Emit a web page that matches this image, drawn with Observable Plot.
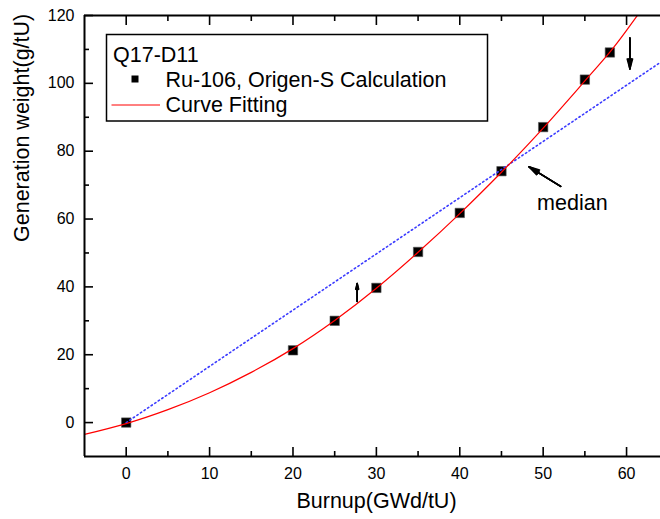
<!DOCTYPE html>
<html><head><meta charset="utf-8">
<script src="https://cdn.jsdelivr.net/npm/d3@7"></script>
<script src="https://cdn.jsdelivr.net/npm/@observablehq/plot@0.6"></script>
<style>
body{margin:0;background:#fff;}
#wrap{position:relative;width:660px;height:519px;}
#wrap svg{position:absolute;left:0;top:0;}
</style></head><body><div id="wrap"></div>
<script>
// Calculated points (Ru-106, Origen-S)
const burnup = [0, 20, 25, 30, 35, 40, 45, 50, 55, 58];
const ru106  = [0, 21.3, 30.0, 39.7, 50.3, 61.8, 74.1, 87.1, 101.1, 109.1];
// Fitted curve
const fitX = [-5, 0, 5, 10, 15, 20, 25, 30, 35, 40, 45, 50, 55, 58, 60, 62];
const fitY = [-3.5, -0.3, 3.8, 8.8, 14.8, 21.8, 30.1, 39.6, 50.2, 61.6, 73.8, 86.8, 100.7, 109.2, 115.6, 122.4];
// Blue dotted median line
const medianX = [0, 64.07];
const medianY = [0, 106.2];
// Annotation arrows
const arrowX1 = [27.7, 60.4, 52.1];
const arrowY1 = [35.7, 113.4, 69.6];
const arrowX2 = [27.7, 60.4, 48.3];
const arrowY2 = [41.0, 104.2, 75.4];
const noteText = ["median"];
const noteX = [53.5];
const noteY = [64.6];
// Axes
const xDomain = [-5, 64.07];
const yDomain = [-10, 120];
const xMajor = [0, 10, 20, 30, 40, 50, 60];
const xMinor = [5, 15, 25, 35, 45, 55];
const yMajor = [0, 20, 40, 60, 80, 100, 120];
const yMinor = [10, 30, 50, 70, 90, 110];
const xTitle = "Burnup(GWd/tU)";
const yTitle = "Generation weight(g/tU)";
// Legend
const legendTitle = "Q17-D11";
const legendLabels = ["Ru-106, Origen-S Calculation", "Curve Fitting"];

const pts = burnup.map((x, i) => ({x, y: ru106[i]}));
const fit = fitX.map((x, i) => ({x, y: fitY[i]}));
const med = medianX.map((x, i) => ({x, y: medianY[i]}));
const arrows = arrowX1.map((x1, i) => ({x1, y1: arrowY1[i], x2: arrowX2[i], y2: arrowY2[i]}));
const notes = noteText.map((t, i) => ({t, x: noteX[i], y: noteY[i]}));

const FONT = "'Liberation Sans', Arial, Helvetica, sans-serif";
const TITLE = 21.5;

const plot = Plot.plot({
  width: 660,
  height: 519,
  marginLeft: 84,
  marginRight: 0,
  marginTop: 15,
  marginBottom: 63,
  style: {fontFamily: FONT, fontSize: "16px", color: "#000", background: "#fff"},
  x: {domain: xDomain},
  y: {domain: yDomain},
  marks: [
    Plot.dot(pts, {x: "x", y: "y", symbol: "square", r: 5.3, fill: "#000", stroke: "#555", strokeWidth: 0.6}),
    Plot.line(med, {x: "x", y: "y", stroke: "#3b3bff", strokeWidth: 1.6, strokeDasharray: "1.4,2.9", clip: true}),
    Plot.line(fit, {x: "x", y: "y", stroke: "#ff0000", strokeWidth: 1.2, curve: "natural", clip: true}),
    ...[30, 20, 10, 3].map(a => Plot.arrow(arrows, {x1: "x1", y1: "y1", x2: "x2", y2: "y2", headLength: 11, headAngle: a, stroke: "#000", strokeWidth: 1.5})),
    Plot.text(notes, {x: "x", y: "y", text: "t", fontSize: TITLE, fill: "#000"}),
    // frame lines
    Plot.ruleY([yDomain[1], yDomain[0]], {stroke: "#000", strokeWidth: 2}),
    Plot.ruleX([xDomain[0]], {stroke: "#000", strokeWidth: 2}),
    // inward ticks
    Plot.axisX(xMajor, {anchor: "bottom", tickSize: -9, tickFormat: () => "", label: null, strokeWidth: 1.6}),
    Plot.axisX(xMinor, {anchor: "bottom", tickSize: -5, tickFormat: () => "", label: null, strokeWidth: 1.6}),
    Plot.axisX(xMajor, {anchor: "top", tickSize: -9, tickFormat: () => "", label: null, strokeWidth: 1.6}),
    Plot.axisX(xMinor, {anchor: "top", tickSize: -5, tickFormat: () => "", label: null, strokeWidth: 1.6}),
    Plot.axisY(yMajor, {anchor: "left", tickSize: -9, tickFormat: () => "", label: null, strokeWidth: 1.6}),
    Plot.axisY(yMinor, {anchor: "left", tickSize: -5, tickFormat: () => "", label: null, strokeWidth: 1.6}),
    // tick labels
    Plot.axisX(xMajor, {anchor: "bottom", tickSize: 0, tickPadding: 11, label: null, fontSize: 16}),
    Plot.axisY(yMajor, {anchor: "left", tickSize: 0, tickPadding: 10, label: null, fontSize: 16}),
    // axis titles
    Plot.text([xTitle], {frameAnchor: "bottom", dy: 51, dx: 4, fontSize: TITLE, fill: "#000"}),
    Plot.text([yTitle], {frameAnchor: "left", rotate: -90, dx: -62, dy: 6, fontSize: TITLE, fill: "#000"})
  ]
});
document.getElementById("wrap").appendChild(plot);

// Legend overlay
const leg = d3.select("#wrap").append("svg")
  .attr("width", 660).attr("height", 519)
  .style("pointer-events", "none")
  .style("font-family", FONT);
leg.append("rect").attr("x", 106.5).attr("y", 34.5).attr("width", 381).attr("height", 86.5)
  .attr("fill", "#fff").attr("stroke", "#000").attr("stroke-width", 1.5);
leg.append("text").attr("x", 113).attr("y", 61.5).attr("font-size", TITLE).text(legendTitle);
leg.append("rect").attr("x", 131.5).attr("y", 75.5).attr("width", 7).attr("height", 7).attr("fill", "#000");
leg.append("text").attr("x", 165.5).attr("y", 86.5).attr("font-size", TITLE).text(legendLabels[0]);
leg.append("line").attr("x1", 111.5).attr("x2", 160).attr("y1", 105).attr("y2", 105)
  .attr("stroke", "#ff0000").attr("stroke-width", 1);
leg.append("text").attr("x", 165.5).attr("y", 111.5).attr("font-size", TITLE).text(legendLabels[1]);
</script>
</body></html>
